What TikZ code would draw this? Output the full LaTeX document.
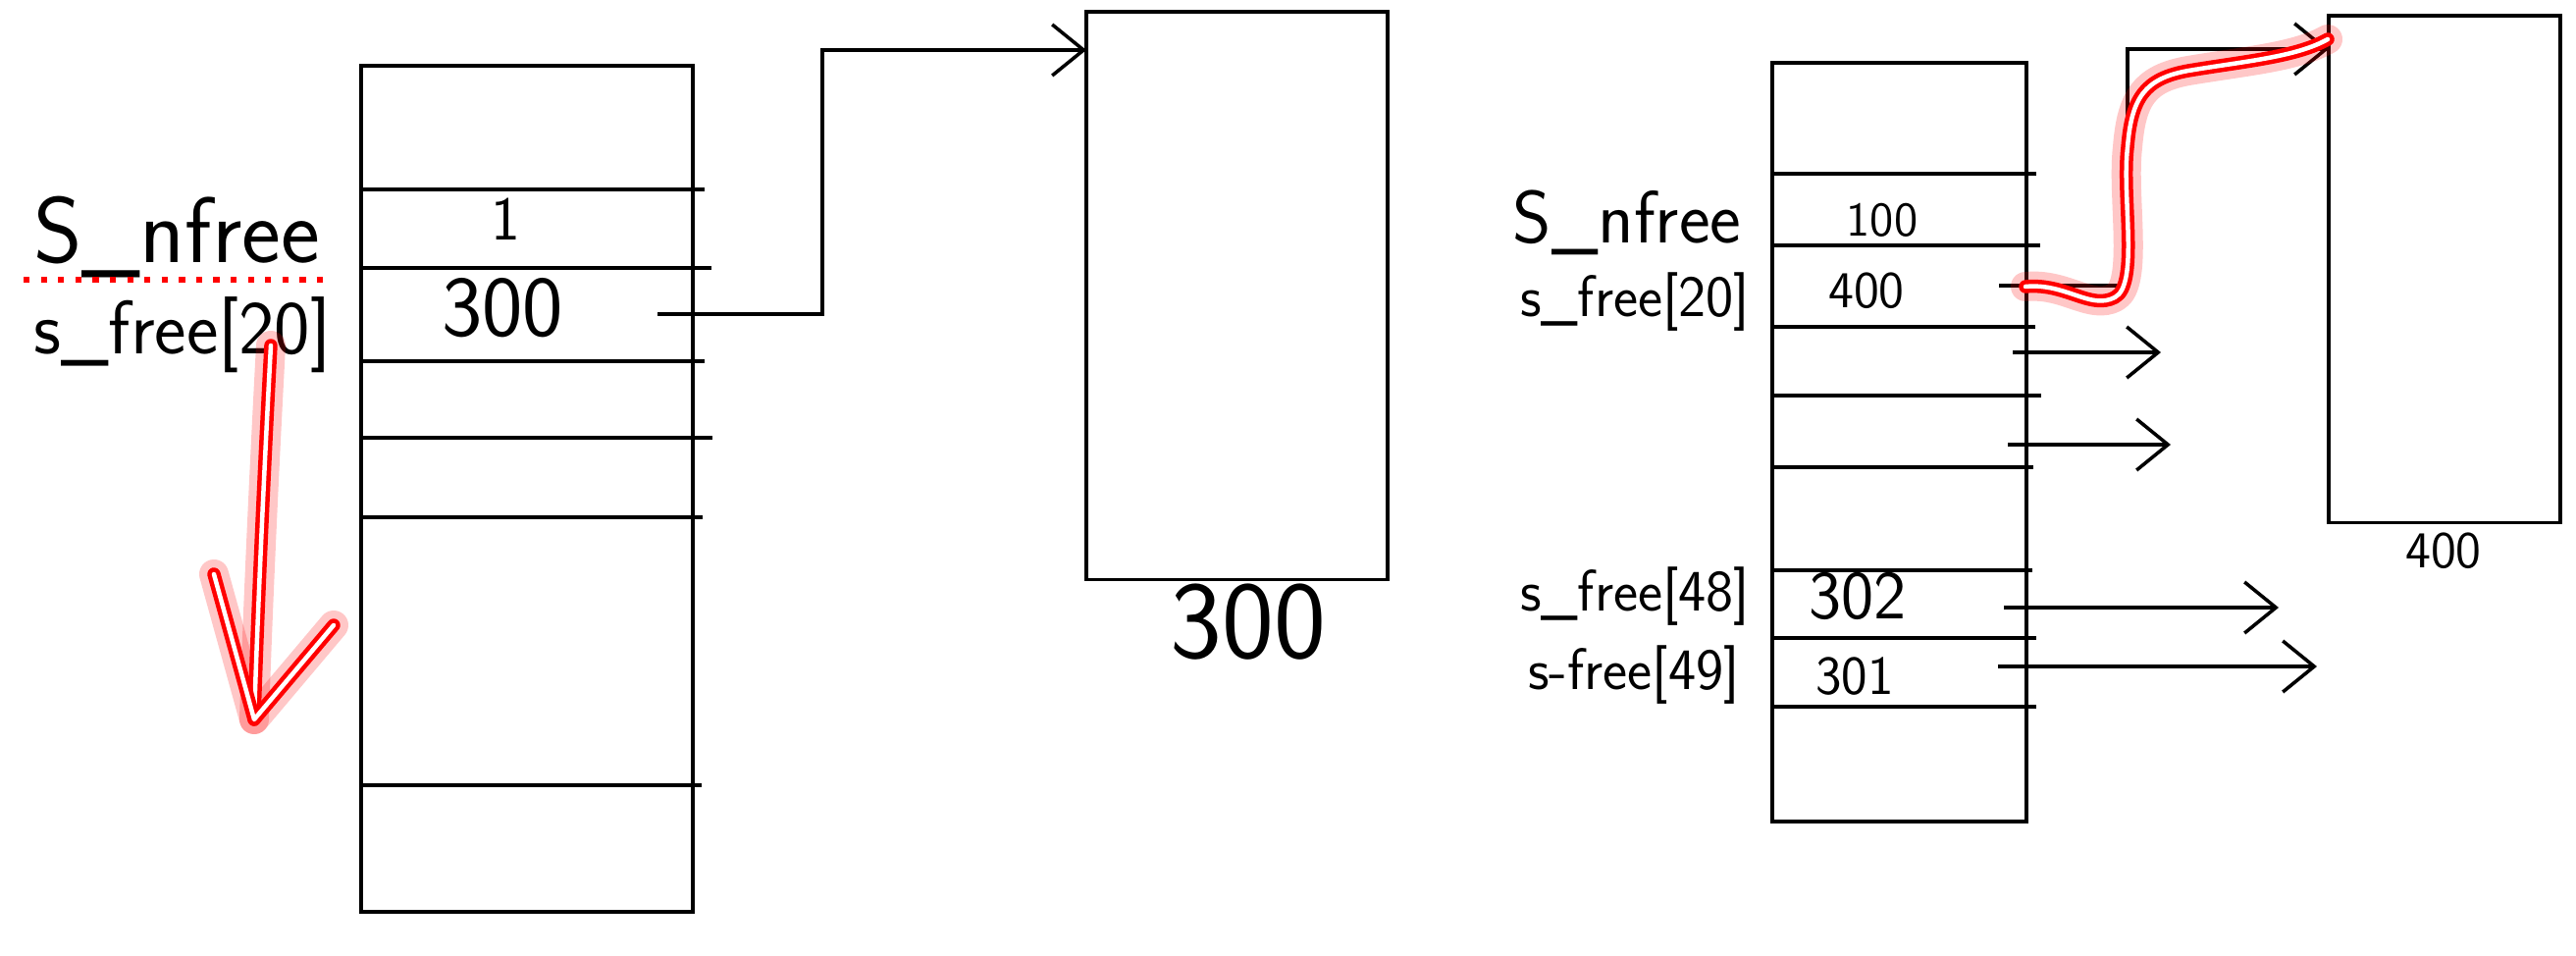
\documentclass[tikz,border=0pt]{standalone}
\usepackage{fontspec}
\usepackage{tikz}
\usetikzlibrary{arrows.meta}

\tikzset{
	grid/.style={line width=1pt},
	blk/.style={draw,line width=1pt,inner sep=0pt,outer sep=0pt,anchor=north west},
	ptr/.style={line width=1pt,-{Straight Barb[length=0.32cm,width=0.52cm]}},
	glow/.style={draw=red,opacity=0.22,line width=0.3cm,line cap=round,line join=round},
	hl/.style={draw=red,line width=0.045cm,double=white,double distance=0.045cm,line cap=round,line join=round},
	txt/.style={font=\sffamily\fontsize{#1}{#1}\selectfont,inner sep=0pt,anchor=base},
}

\begin{document}
\begin{tikzpicture}[x=0.01cm,y=-0.01cm]
		\useasboundingbox (0,0) rectangle (2625,973);
		% left table
		\draw[grid] (368,67) rectangle (706,929);
		\foreach \y/\x in {193/718,273/725,368/718,446/726,527/716,800/715}
			\draw[grid] (368,\y) -- (\x,\y);
		\node[txt=27] (lnfree) at (180,268) {S\_nfree};
		\node[txt=22] (lfree) at (186,360) {s\_free[20]};
		\draw[red,line width=1.8pt,dash pattern=on 1.8pt off 3.2pt] (24,285) -- (337,285);
		\node[txt=18] (one) at (515,245) {1};
		\node[txt=25] (v300) at (512,342) {300};
		\node[blk,minimum width=3.07cm,minimum height=5.78cm] (blkA) at (1107,12) {};
		\node[txt=32] (lblA) at (1272,670) {300};
		\coordinate (srcA) at (670,320);
		\coordinate (inA) at (1107,51);
		\draw[ptr] (srcA) -- ++(168,0) |- (inA);
		\coordinate (rtail) at (276,352);
		\coordinate (rtip) at (259,733);
		\foreach \st in {glow,hl}{
			\draw[\st] (rtail) .. controls (268,500) and (262,640) .. (rtip);
			\draw[\st] (218,585) -- (rtip) -- (340,637);
		}
		% right table
		\draw[grid] (1806,64) rectangle (2065,837);
		\foreach \y/\x in {177/2075,250/2079,333/2074,403/2080,476/2072,581/2071,650/2075,720/2075}
			\draw[grid] (1806,\y) -- (\x,\y);
		\node[txt=21.5] (rnfree) at (1658,248) {S\_nfree};
		\node[txt=17] (rfree) at (1666,322) {s\_free[20]};
		\node[txt=17] (rfree48) at (1666,622) {s\_free[48]};
		\node[txt=17] (rfree49) at (1665,702) {s-free[49]};
		\node[txt=14] (v100) at (1918,240) {100};
		\node[txt=15] (v400) at (1902,313) {400};
		\node[txt=20] (v302) at (1893,630) {302};
		\node[txt=16] (v301) at (1890,707) {301};
		\node[blk,minimum width=2.36cm,minimum height=5.16cm] (blkB) at (2373,16) {};
		\node[txt=15] (lblB) at (2490,578) {400};
		\coordinate (srcB) at (2037,291);
		\coordinate (inB) at (2373,50);
		\draw[ptr] (srcB) -- ++(131,0) |- (inB);
		\foreach \n/\y/\xa/\xb in {1/359/2051/2202,2/453/2046/2212,3/619/2042/2322,4/679/2036/2361}{
			\coordinate (s\n) at (\xa,\y);
			\coordinate (e\n) at (\xb,\y);
			\draw[ptr] (s\n) -- (e\n);
		}
		\coordinate (wstart) at (2064,292);
		\coordinate (wend) at (2372,40);
		\foreach \st in {glow,hl}
			\draw[\st] (wstart) .. controls (2105,288) and (2130,316) .. (2155,303)
				.. controls (2180,290) and (2162,200) .. (2168,150)
				.. controls (2172,100) and (2185,80) .. (2230,72)
				.. controls (2290,62) and (2340,58) .. (wend);
\end{tikzpicture}
\end{document}
